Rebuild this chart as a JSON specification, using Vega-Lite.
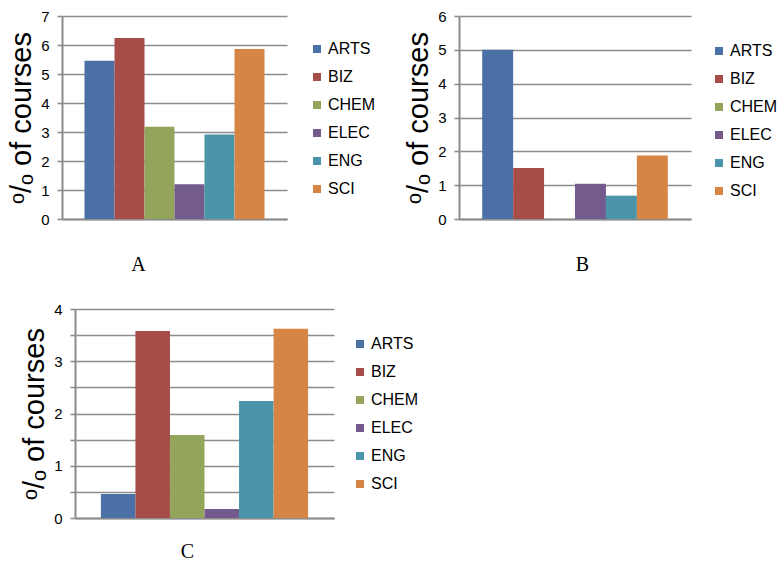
{
  "$schema": "https://vega.github.io/schema/vega-lite/v6.json",
  "padding": {"left": 7, "top": 9, "right": 0, "bottom": 0},
  "background": "white",
  "config": {
    "view": {"stroke": null},
    "font": "Liberation Sans",
    "axisY": {
      "domainColor": "#8c8c8c", "domainWidth": 2,
      "gridColor": "#8c8c8c", "gridWidth": 1.6,
      "tickColor": "#8c8c8c", "tickWidth": 1.6, "tickSize": 5,
      "labelFont": "Liberation Sans", "labelFontSize": 15, "labelColor": "#000000", "labelPadding": 8,
      "titleFont": "Liberation Sans", "titleFontSize": 29, "titleFontWeight": "normal", "titleColor": "#000000", "titlePadding": 4
    },
    "axisX": {
      "labels": false, "ticks": false, "grid": false,
      "domainColor": "#8c8c8c", "domainWidth": 2,
      "titleFont": "Liberation Serif", "titleFontSize": 20, "titleFontWeight": "normal", "titleColor": "#000000",
      "titleBaseline": "alphabetic"
    },
    "legend": {
      "orient": "none", "padding": 0, "title": null,
      "symbolType": "square", "symbolSize": 64, "symbolStrokeWidth": 0,
      "labelFont": "Liberation Sans", "labelFontSize": 16, "labelColor": "#000000", "labelOffset": 3,
      "rowPadding": 12
    },
    "bar": {"stroke": null}
  },
  "datasets": {
    "A": [
      {"dept": "ARTS", "pct": 5.46},
      {"dept": "BIZ", "pct": 6.24},
      {"dept": "CHEM", "pct": 3.18},
      {"dept": "ELEC", "pct": 1.2},
      {"dept": "ENG", "pct": 2.91},
      {"dept": "SCI", "pct": 5.86}
    ],
    "B": [
      {"dept": "ARTS", "pct": 5.0},
      {"dept": "BIZ", "pct": 1.51},
      {"dept": "CHEM", "pct": 0},
      {"dept": "ELEC", "pct": 1.04},
      {"dept": "ENG", "pct": 0.69},
      {"dept": "SCI", "pct": 1.88}
    ],
    "C": [
      {"dept": "ARTS", "pct": 0.46},
      {"dept": "BIZ", "pct": 3.58},
      {"dept": "CHEM", "pct": 1.59},
      {"dept": "ELEC", "pct": 0.17},
      {"dept": "ENG", "pct": 2.24},
      {"dept": "SCI", "pct": 3.62}
    ]
  },
  "vconcat": [
    {
      "hconcat": [
        {
          "width": 225, "height": 203,
          "data": {"name": "A"},
          "mark": "bar",
          "encoding": {
            "x": {"field": "dept", "type": "nominal", "sort": null,
                  "scale": {"paddingInner": 0, "paddingOuter": 0.75},
                  "axis": {"title": "A", "titleX": 76, "titleY": 51}},
            "y": {"field": "pct", "type": "quantitative",
                  "scale": {"domain": [0, 7], "nice": false},
                  "axis": {"title": "ᵒ/ₒ of courses", "values": [0, 1, 2, 3, 4, 5, 6, 7]}},
            "color": {"field": "dept", "type": "nominal",
                      "scale": {"domain": ["ARTS", "BIZ", "CHEM", "ELEC", "ENG", "SCI"],
                                "range": ["#4a70a5", "#a64d4a", "#92a55a", "#735b8d", "#4a95aa", "#d68545"]},
                      "legend": {"legendX": 247, "legendY": 25}}
          }
        },
        {
          "width": 232, "height": 203,
          "data": {"name": "B"},
          "mark": "bar",
          "encoding": {
            "x": {"field": "dept", "type": "nominal", "sort": null,
                  "scale": {"paddingInner": 0, "paddingOuter": 0.75},
                  "axis": {"title": "B", "titleX": 123, "titleY": 51}},
            "y": {"field": "pct", "type": "quantitative",
                  "scale": {"domain": [0, 6], "nice": false},
                  "axis": {"title": "ᵒ/ₒ of courses", "values": [0, 1, 2, 3, 4, 5, 6]}},
            "color": {"field": "dept", "type": "nominal",
                      "scale": {"domain": ["ARTS", "BIZ", "CHEM", "ELEC", "ENG", "SCI"],
                                "range": ["#4a70a5", "#a64d4a", "#92a55a", "#735b8d", "#4a95aa", "#d68545"]},
                      "legend": {"legendX": 252, "legendY": 27}}
          }
        }
      ],
      "spacing": 172,
      "bounds": "flush",
      "align": "none",
      "resolve": {"scale": {"color": "independent", "x": "independent", "y": "independent"}, "legend": {"color": "independent"}}
    },
    {
      "hconcat": [
        {
          "width": 1, "height": 1,
          "data": {"values": []},
          "mark": "point"
        },
        {
          "width": 259, "height": 209,
          "data": {"name": "C"},
          "mark": "bar",
          "encoding": {
            "x": {"field": "dept", "type": "nominal", "sort": null,
                  "scale": {"paddingInner": 0, "paddingOuter": 0.75},
                  "axis": {"title": "C", "titleX": 112, "titleY": 39}},
            "y": {"field": "pct", "type": "quantitative",
                  "scale": {"domain": [0, 4], "nice": false},
                  "axis": {"title": "ᵒ/ₒ of courses", "values": [0, 0.5, 1, 1.5, 2, 2.5, 3, 3.5, 4],
                           "labelExpr": "datum.value % 1 === 0 ? format(datum.value, 'd') : ''"}},
            "color": {"field": "dept", "type": "nominal",
                      "scale": {"domain": ["ARTS", "BIZ", "CHEM", "ELEC", "ENG", "SCI"],
                                "range": ["#4a70a5", "#a64d4a", "#92a55a", "#735b8d", "#4a95aa", "#d68545"]},
                      "legend": {"legendX": 277, "legendY": 27}}
          }
        }
      ],
      "spacing": 12,
      "bounds": "flush",
      "align": "none",
      "resolve": {"scale": {"color": "independent", "x": "independent", "y": "independent"}, "legend": {"color": "independent"}}
    }
  ],
  "spacing": 28,
  "bounds": "full",
  "align": "none",
  "resolve": {"scale": {"color": "independent", "x": "independent", "y": "independent"}, "legend": {"color": "independent"}}
}
